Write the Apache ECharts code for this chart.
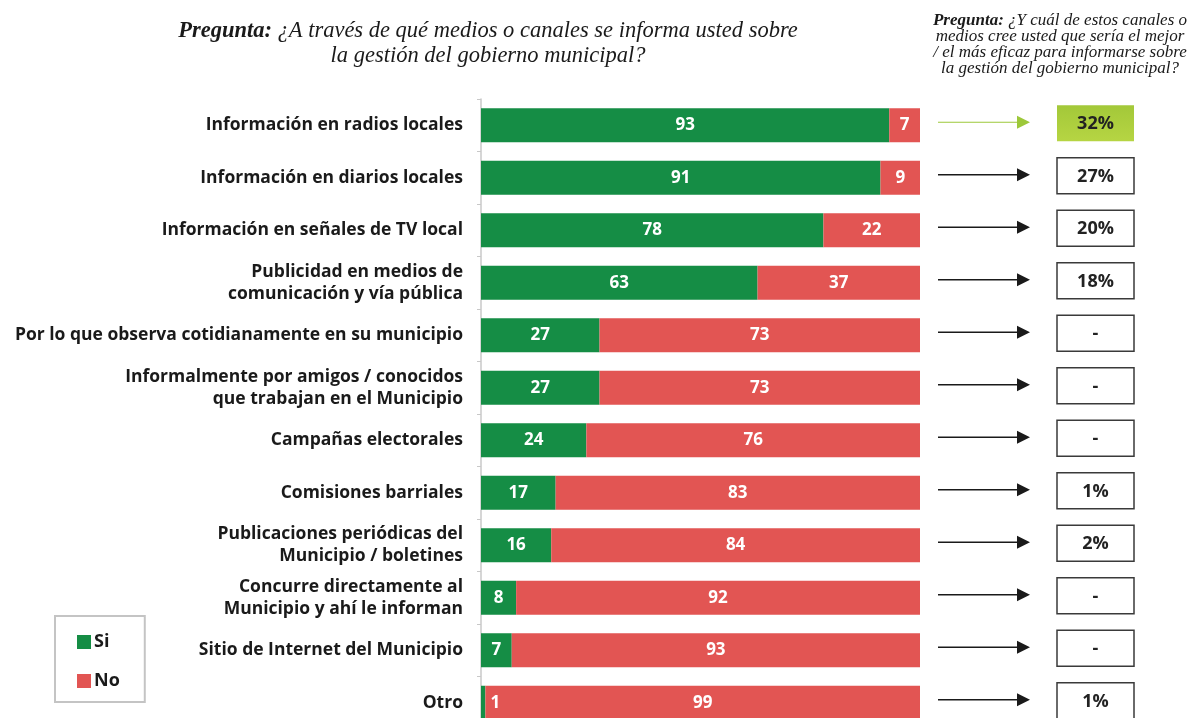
<!DOCTYPE html>
<html>
<head>
<meta charset="utf-8">
<script src="https://cdn.jsdelivr.net/npm/echarts@6/dist/echarts.min.js"></script>
<style>
  html, body { margin: 0; padding: 0; background: #fff; }
  #chart { width: 1189px; height: 718px; }
</style>
</head>
<body>
<div id="chart"></div>
<script>
// Canales de información sobre la gestión municipal
const categories = [
  'Información en radios locales',
  'Información en diarios locales',
  'Información en señales de TV local',
  'Publicidad en medios de\ncomunicación y vía pública',
  'Por lo que observa cotidianamente en su municipio',
  'Informalmente por amigos / conocidos\nque trabajan en el Municipio',
  'Campañas electorales',
  'Comisiones barriales',
  'Publicaciones periódicas del\nMunicipio / boletines',
  'Concurre directamente al\nMunicipio y ahí le informan',
  'Sitio de Internet del Municipio',
  'Otro'
];
const siValues = [93, 91, 78, 63, 27, 27, 24, 17, 16, 8, 7, 1];
const noValues = [7, 9, 22, 37, 73, 73, 76, 83, 84, 92, 93, 99];
// Canal considerado mejor / más eficaz
const bestChannel = ['32%', '27%', '20%', '18%', '-', '-', '-', '1%', '2%', '-', '-', '1%'];

const GREEN = '#158d45';
const RED = '#e25553';
const FONT = '"Open Sans", "Noto Sans", sans-serif';
const SERIF = '"Liberation Serif", "DejaVu Serif", serif';

const chart = echarts.init(document.getElementById('chart'));

const valueLabel = {
  show: true,
  position: 'inside',
  color: '#fff',
  fontFamily: FONT,
  fontWeight: 'bold',
  fontSize: 17
};

// Arrow + boxed value to the right of each row
function renderBest(params, api) {
  const idx = api.value(0);
  const yc = api.coord([0, idx])[1];
  const first = idx === 0;
  const arrowColor = first ? '#9dc83a' : '#1a1a1a';
  const ay = yc - 3;
  const by = yc - 2;
  const boxX = 1057, boxW = 77, boxH = 36;
  return {
    type: 'group',
    children: [
      {
        type: 'line',
        shape: { x1: 938, y1: ay, x2: 1018, y2: ay },
        style: { stroke: arrowColor, lineWidth: first ? 1.2 : 1.6 }
      },
      {
        type: 'polygon',
        shape: { points: [[1017, ay - 6.5], [1030, ay], [1017, ay + 6.5]] },
        style: { fill: arrowColor }
      },
      {
        type: 'rect',
        shape: { x: boxX, y: by - boxH / 2, width: boxW, height: boxH },
        style: first
          ? {
              fill: new echarts.graphic.LinearGradient(0, 0, 0, 1, [
                { offset: 0, color: '#a3c839' },
                { offset: 1, color: '#b6d543' }
              ]),
              stroke: null
            }
          : { fill: '#fff', stroke: '#3a3a3a', lineWidth: 1.5 }
      },
      {
        type: 'text',
        style: {
          x: boxX + boxW / 2,
          y: by + 1,
          text: bestChannel[idx],
          align: 'center',
          verticalAlign: 'middle',
          fill: '#222',
          font: 'bold 18px ' + FONT
        }
      }
    ]
  };
}

function serifStyle(size, lh) {
  return {
    fontFamily: SERIF,
    fontStyle: 'italic',
    fontWeight: 'normal',
    fontSize: size,
    lineHeight: lh,
    color: '#1a1a1a',
    rich: {
      b: { fontFamily: SERIF, fontStyle: 'italic', fontWeight: 'bold', fontSize: size, lineHeight: lh, color: '#1a1a1a' },
      i: { fontFamily: SERIF, fontStyle: 'italic', fontWeight: 'normal', fontSize: size, lineHeight: lh, color: '#1a1a1a' }
    }
  };
}

const option = {
  backgroundColor: '#fff',
  animation: false,
  title: [
    {
      left: 483,
      top: 14,
      textAlign: 'center',
      text: '{b|Pregunta:} {i|¿A través de qué medios o canales se informa usted sobre}\n{i|la gestión del gobierno municipal?}',
      textStyle: serifStyle(22.5, 25)
    },
    {
      left: 1055,
      top: 8,
      textAlign: 'center',
      text: '{b|Pregunta:} {i|¿Y cuál de estos canales o}\n{i|medios cree usted que sería el mejor}\n{i|/ el más eficaz para informarse sobre}\n{i|la gestión del gobierno municipal?}',
      textStyle: serifStyle(17, 16)
    }
  ],
  legend: {
    data: ['Si', 'No'],
    orient: 'vertical',
    left: 55,
    top: 616,
    icon: 'rect',
    itemWidth: 14,
    itemHeight: 14,
    itemGap: 21,
    padding: [17, 25, 12, 22],
    borderColor: '#c4c4c4',
    borderWidth: 2,
    textStyle: { fontFamily: FONT, fontWeight: 'bold', fontSize: 18, color: '#1a1a1a', padding: [0, 0, 0, -2] }
  },
  grid: { left: 481, top: 99, width: 439, height: 630, outerBoundsMode: 'none', containLabel: false },
  xAxis: {
    type: 'value',
    min: 0,
    max: 100,
    show: false
  },
  yAxis: {
    type: 'category',
    data: categories,
    inverse: true,
    axisLine: { show: true, lineStyle: { color: '#c8c8c8', width: 1.5 } },
    axisTick: { show: true, length: 4, lineStyle: { color: '#c8c8c8' } },
    axisLabel: {
      margin: 18,
      fontFamily: FONT,
      fontWeight: 'bold',
      fontSize: 17.5,
      lineHeight: 22,
      color: '#1a1a1a',
      align: 'right'
    }
  },
  series: [
    {
      name: 'Si',
      type: 'bar',
      stack: 'total',
      barWidth: 34,
      itemStyle: { color: GREEN },
      label: valueLabel,
      data: siValues.map(v => v === 1
        ? { value: v, label: { position: 'right', distance: 5 } }
        : v)
    },
    {
      name: 'No',
      type: 'bar',
      stack: 'total',
      barWidth: 34,
      itemStyle: { color: RED },
      label: valueLabel,
      data: noValues
    },
    {
      name: 'Mejor canal',
      type: 'custom',
      clip: false,
      renderItem: renderBest,
      encode: { y: 0 },
      data: bestChannel.map((_, i) => [i])
    }
  ]
};

chart.setOption(option);
</script>
</body>
</html>
